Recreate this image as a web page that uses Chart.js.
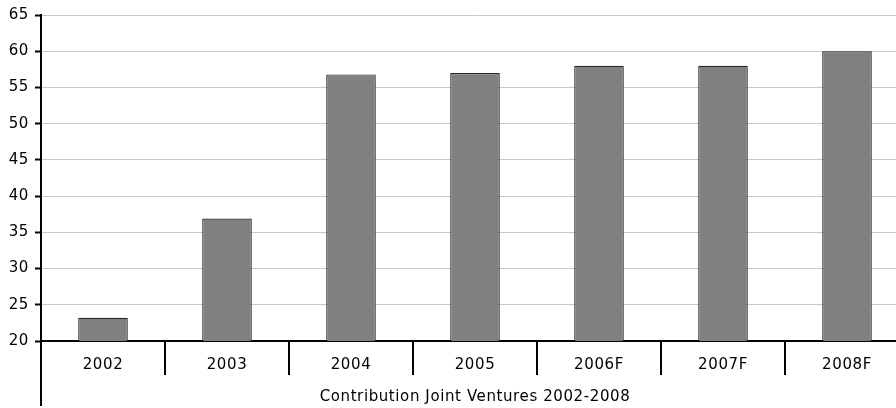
<!DOCTYPE html>
<html>
<head>
<meta charset="utf-8">
<script src="https://cdn.jsdelivr.net/npm/chart.js@4/dist/chart.umd.min.js"></script>
<style>
  html, body { margin: 0; padding: 0; background: #fff; overflow: hidden; }
  #wrap { position: relative; width: 912px; height: 408px; }
</style>
</head>
<body>
<div id="wrap"><canvas id="chart"></canvas></div>
<script>
var years = ['2002', '2003', '2004', '2005', '2006F', '2007F', '2008F'];
var contribution = [23.2, 36.9, 56.8, 57.0, 58.0, 58.0, 60.0];
var axisTitle = 'Contribution Joint Ventures 2002-2008';
var yMin = 20, yMax = 65, yStep = 5;

// y axis line keeps going down past the category axis
var longAxis = {
    id: 'longAxis',
    afterDraw: function(chart) {
        var ctx = chart.ctx;
        var x = chart.chartArea.left;
        ctx.save();
        ctx.strokeStyle = '#000';
        ctx.lineWidth = 2;
        ctx.beginPath();
        ctx.moveTo(x, chart.chartArea.bottom);
        ctx.lineTo(x, chart.height - 2);
        ctx.stroke();
        ctx.restore();
    }
};

// the original text is a bit wider than DejaVu, spread it a little
var wideText = {
    id: 'wideText',
    beforeLayout: function(chart) { chart.ctx.letterSpacing = '0.6px'; },
    beforeDraw: function(chart) { chart.ctx.letterSpacing = '0.6px'; }
};

Chart.defaults.font.family = "'DejaVu Sans', Verdana, sans-serif";
Chart.defaults.font.size = 15;
Chart.defaults.color = '#000';

new Chart(document.getElementById('chart'), {
    type: 'bar',
    data: {
        labels: years,
        datasets: [{
            data: contribution,
            backgroundColor: '#808080',
            borderColor: '#262626',
            borderWidth: 1.2,
            categoryPercentage: 1,
            barPercentage: 0.4
        }]
    },
    options: {
        responsive: true,
        maintainAspectRatio: false,
        animation: false,
        layout: { padding: { top: 14, right: 3, left: 0, bottom: 0 } },
        plugins: {
            legend: { display: false },
            tooltip: { enabled: false }
        },
        scales: {
            x: {
                offset: true,
                grid: {
                    offset: true,
                    drawOnChartArea: false,
                    color: '#000',
                    lineWidth: 2,
                    tickLength: 34
                },
                border: { color: '#000', width: 2 },
                ticks: { padding: -19, maxRotation: 0 },
                title: {
                    display: true,
                    text: axisTitle,
                    padding: { top: 0, bottom: 2 }
                },
                afterFit: function(scale) { scale.height = 67; }
            },
            y: {
                min: yMin,
                max: yMax,
                ticks: { stepSize: yStep, padding: 6 },
                grid: {
                    color: '#c8c8c8',
                    lineWidth: 1,
                    tickColor: '#000',
                    tickWidth: 2,
                    tickLength: 6
                },
                border: { color: '#000', width: 2 },
                afterFit: function(scale) { scale.width = 41; }
            }
        }
    },
    plugins: [wideText, longAxis]
});
</script>
</body>
</html>
